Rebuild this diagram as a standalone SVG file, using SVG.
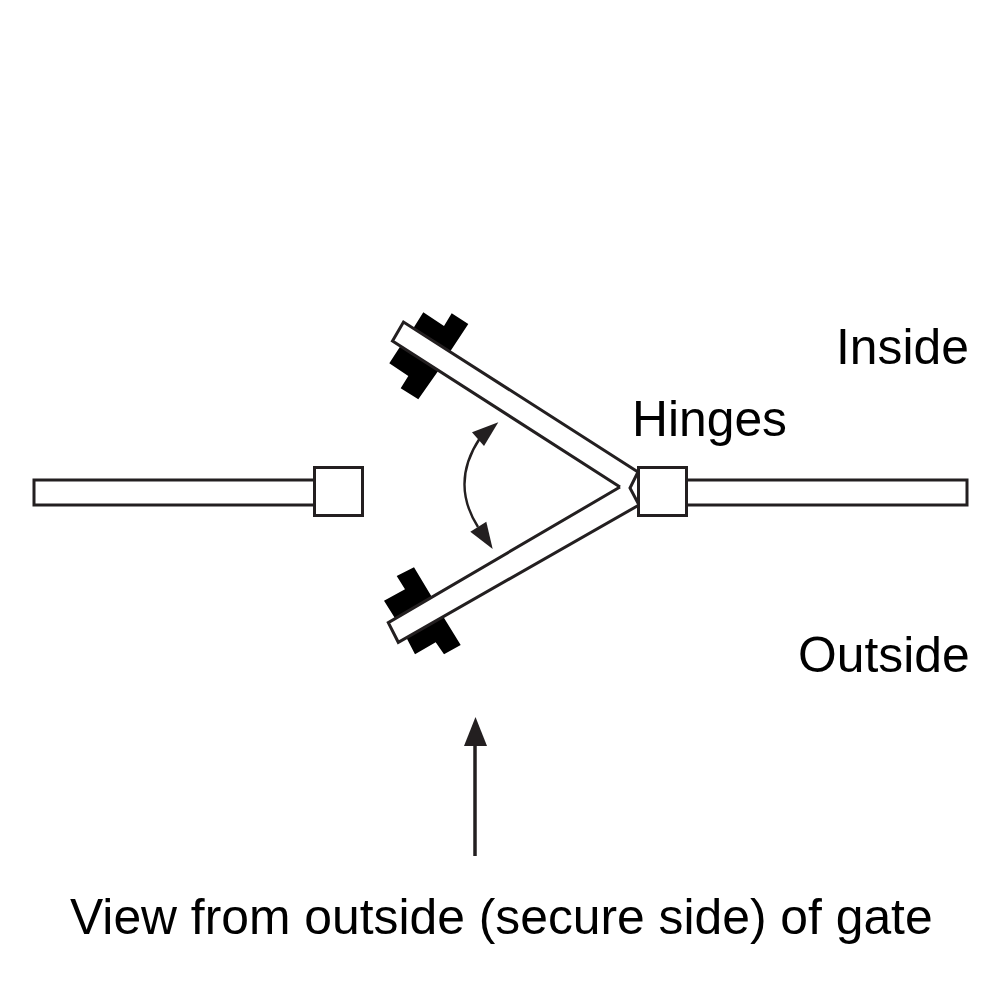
<svg xmlns="http://www.w3.org/2000/svg" width="1001" height="1001" viewBox="0 0 1001 1001">
<style>
.o{fill:#fff;stroke:#231f20;stroke-width:3;stroke-linejoin:miter}
.b{fill:#000}
.t{font-family:"Liberation Sans",Arial,sans-serif;font-size:49.800px;fill:#000}
.a{fill:none;stroke:#231f20;stroke-width:2.400}
.h{fill:#231f20}
</style>
<rect width="1001" height="1001" fill="#fff"/>
<g id="left-post">
<rect class="o" x="34" y="480" width="281" height="25"/>
<rect class="o" x="314.500" y="467.500" width="48" height="48"/>
</g>
<g id="right-post">
<rect class="o" x="686" y="480" width="281" height="25"/>
</g>
<g id="upper-gate">
<polygon class="b" points="423.300,312.300 444,326 451.700,313.300 468.300,324 450,351.700 413.300,328.300"/>
<polygon class="b" points="400,346.700 389.300,363.300 408.300,376 400.700,388.300 418.300,399.300 438.300,370.700"/>
<polyline class="o" points="638,472 403.500,322 392.500,341 620,487"/>
</g>
<g id="lower-gate">
<polygon class="b" points="396.700,576 414,567.300 431.700,596.700 395,618.300 384,600.700 405,589.300"/>
<polygon class="b" points="406.700,638.300 415,654.300 435.700,642.300 444,654.300 460.700,645 443.300,616.700"/>
<polyline class="o" points="620,487 388.300,622.700 398.300,642.300 639,505"/>
<polyline class="a" style="stroke-width:3" points="638,472 630,488 639,505"/>
</g>
<g id="hinge">
<rect class="o" x="638.500" y="467.500" width="48" height="48"/>
</g>
<g id="connectors">
<path class="a" d="M480,438Q450,483 478,527"/>
<polygon class="h" points="498.300,422.300 472,432.300 484,446"/>
<polygon class="h" points="492.700,549 470.300,531.700 486.300,521.700"/>
<line class="a" style="stroke-width:3.500" x1="475" y1="856" x2="475" y2="745"/>
<polygon class="h" points="475.500,717 464,746 487,746"/>
</g>
<text class="t" x="836" y="364">Inside</text>
<text class="t" x="632" y="436">Hinges</text>
<text class="t" x="798" y="672">Outside</text>
<text class="t" x="70" y="934">View from outside (secure side) of gate</text>
</svg>
